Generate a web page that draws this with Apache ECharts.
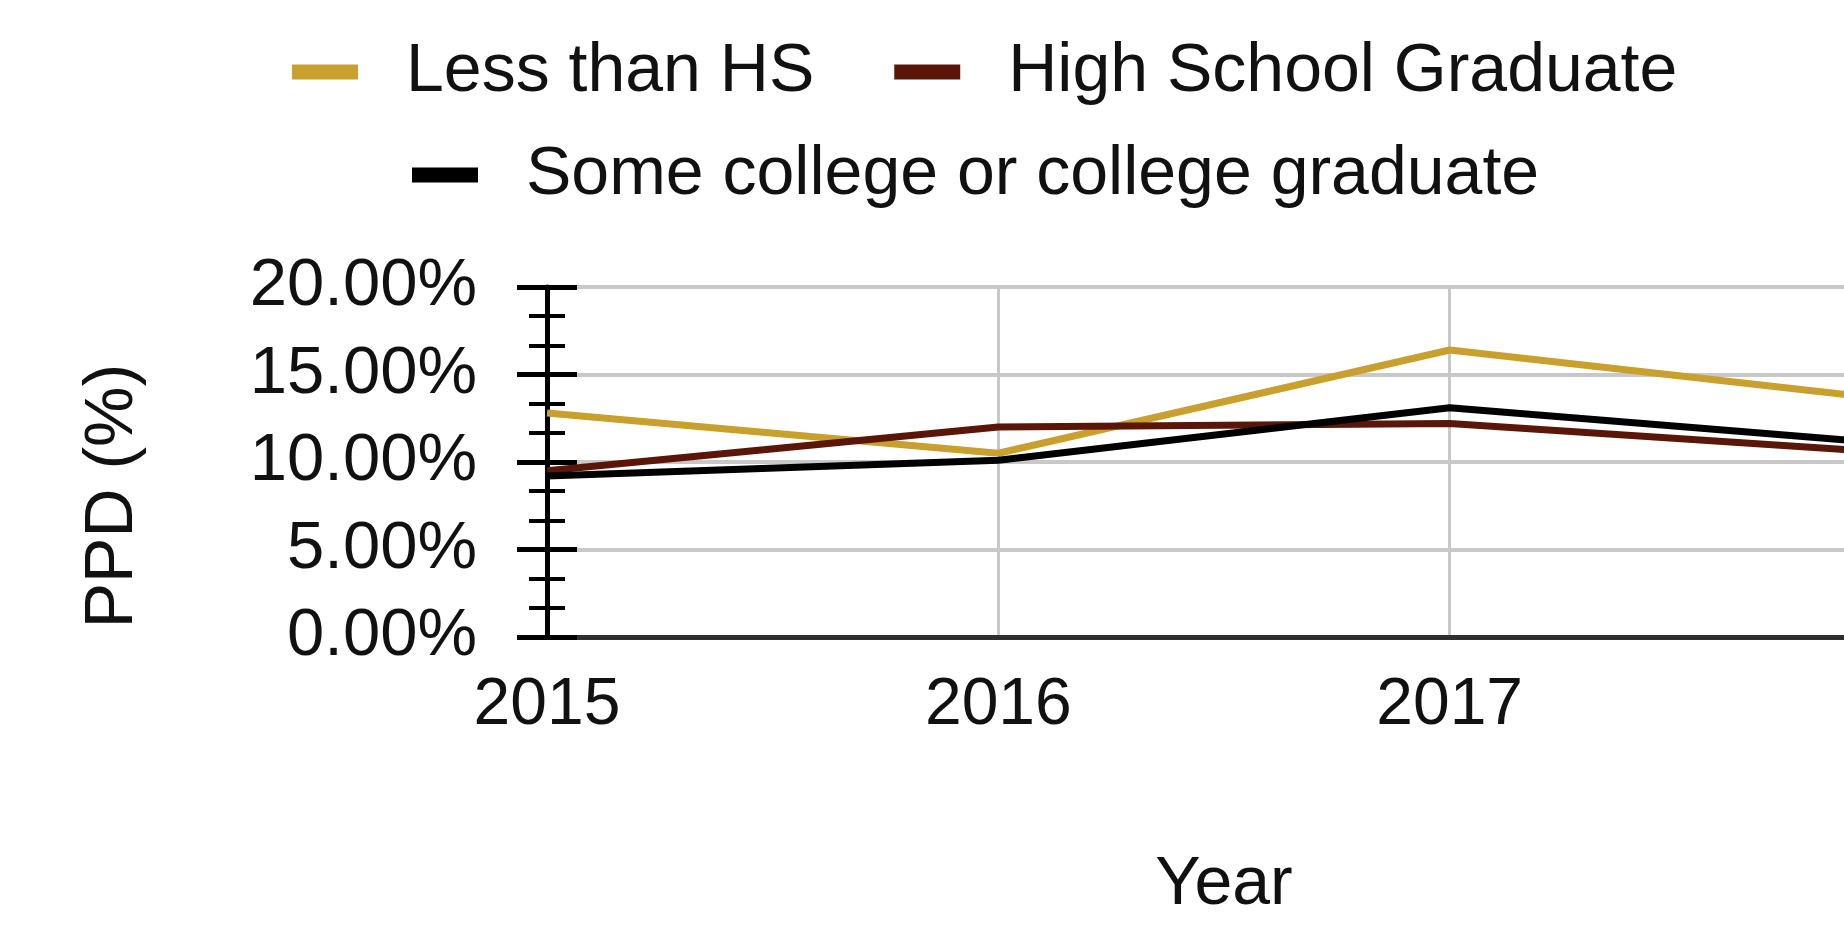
<!DOCTYPE html>
<html>
<head>
<meta charset="utf-8">
<title>PPD by education</title>
<script src="https://cdn.jsdelivr.net/npm/echarts@6/dist/echarts.min.js"></script>
<style>
  html, body { margin: 0; padding: 0; background: #ffffff; overflow: hidden; }
  /* the plot runs on past the right edge of the window */
  #chart { width: 1910px; height: 940px; }
</style>
</head>
<body>
<div id="chart"></div>
<script>
// Years on the x axis
const years = ['2015', '2016', '2017', '2018'];

// PPD rate (%) by education level
const lessThanHS = [12.8, 10.5, 16.4, 13.5];
const highSchoolGrad = [9.5, 12.0, 12.2, 10.5];
const someCollege = [9.2, 10.1, 13.1, 11.0];

// Y axis range and step
const yMin = 0;
const yMax = 20;
const yStep = 5;

const seriesNames = ['Less than HS', 'High School Graduate', 'Some college or college graduate'];
const seriesColors = ['#c9a02e', '#5a1608', '#000000'];
const seriesValues = [lessThanHS, highSchoolGrad, someCollege];

const FONT = 'Liberation Sans, Arial, sans-serif';

const chart = echarts.init(document.getElementById('chart'), null, {
  renderer: 'canvas',
  width: 1910,
  height: 940
});

const legendText = {
  fontFamily: FONT,
  fontSize: 68,
  color: '#111111',
  padding: [0, 0, 0, 43]
};

const option = {
  backgroundColor: '#ffffff',
  animation: false,
  legend: [
    {
      data: [seriesNames[0], seriesNames[1]],
      left: 292,
      top: 38,
      padding: 0,
      icon: 'rect',
      itemWidth: 66,
      itemHeight: 15,
      itemGap: 80,
      textStyle: legendText
    },
    {
      data: [seriesNames[2]],
      left: 412,
      top: 141,
      padding: 0,
      icon: 'rect',
      itemWidth: 66,
      itemHeight: 15,
      textStyle: legendText
    }
  ],
  grid: {
    left: 547,
    top: 287,
    bottom: 303,
    right: 9,
    containLabel: false,
    outerBoundsMode: 'none'
  },
  xAxis: {
    type: 'category',
    data: years,
    boundaryGap: false,
    name: 'Year',
    nameLocation: 'middle',
    nameGap: 214,
    nameTextStyle: { fontFamily: FONT, fontSize: 68, color: '#111111' },
    axisLine: { show: true, lineStyle: { color: '#2e2e2e', width: 5 } },
    axisTick: { show: false },
    axisLabel: {
      fontFamily: FONT,
      fontSize: 66,
      color: '#111111',
      margin: 36,
      // the last year sits past the right edge; no label for it
      interval: (idx) => idx < years.length - 1
    },
    splitLine: { show: true, lineStyle: { color: '#c8c8c8', width: 3 } }
  },
  yAxis: [
    {
      type: 'value',
      min: yMin,
      max: yMax,
      interval: yStep,
      position: 'left',
      name: 'PPD (%)',
      nameLocation: 'middle',
      nameGap: 400,
      nameTextStyle: {
        fontFamily: FONT,
        fontSize: 68,
        color: '#111111',
        padding: [0, 68, 0, 0]
      },
      axisLine: { show: true, lineStyle: { color: '#000000', width: 5 } },
      axisTick: { show: true, inside: false, length: 30, lineStyle: { color: '#000000', width: 5 } },
      minorTick: { show: true, splitNumber: 3, length: 18, lineStyle: { color: '#000000', width: 4 } },
      axisLabel: {
        fontFamily: FONT,
        fontSize: 67,
        color: '#111111',
        margin: 70,
        formatter: v => v.toFixed(2) + '%'
      },
      splitLine: { show: true, lineStyle: { color: '#c8c8c8', width: 4 } }
    },
    {
      // inner half of the tick marks, so ticks straddle the axis line
      type: 'value',
      min: yMin,
      max: yMax,
      interval: yStep,
      position: 'left',
      offset: 0,
      axisLine: { show: false },
      axisTick: { show: true, inside: true, length: 30, lineStyle: { color: '#000000', width: 5 } },
      minorTick: { show: true, splitNumber: 3, length: 18, lineStyle: { color: '#000000', width: 4 } },
      axisLabel: { show: false },
      splitLine: { show: false }
    }
  ],
  series: seriesNames.map((name, i) => ({
    name: name,
    type: 'line',
    data: seriesValues[i],
    yAxisIndex: 0,
    color: seriesColors[i],
    showSymbol: false,
    symbol: 'none',
    lineStyle: { width: 7, color: seriesColors[i] },
    itemStyle: { color: seriesColors[i] }
  }))
};

chart.setOption(option);
</script>
</body>
</html>
